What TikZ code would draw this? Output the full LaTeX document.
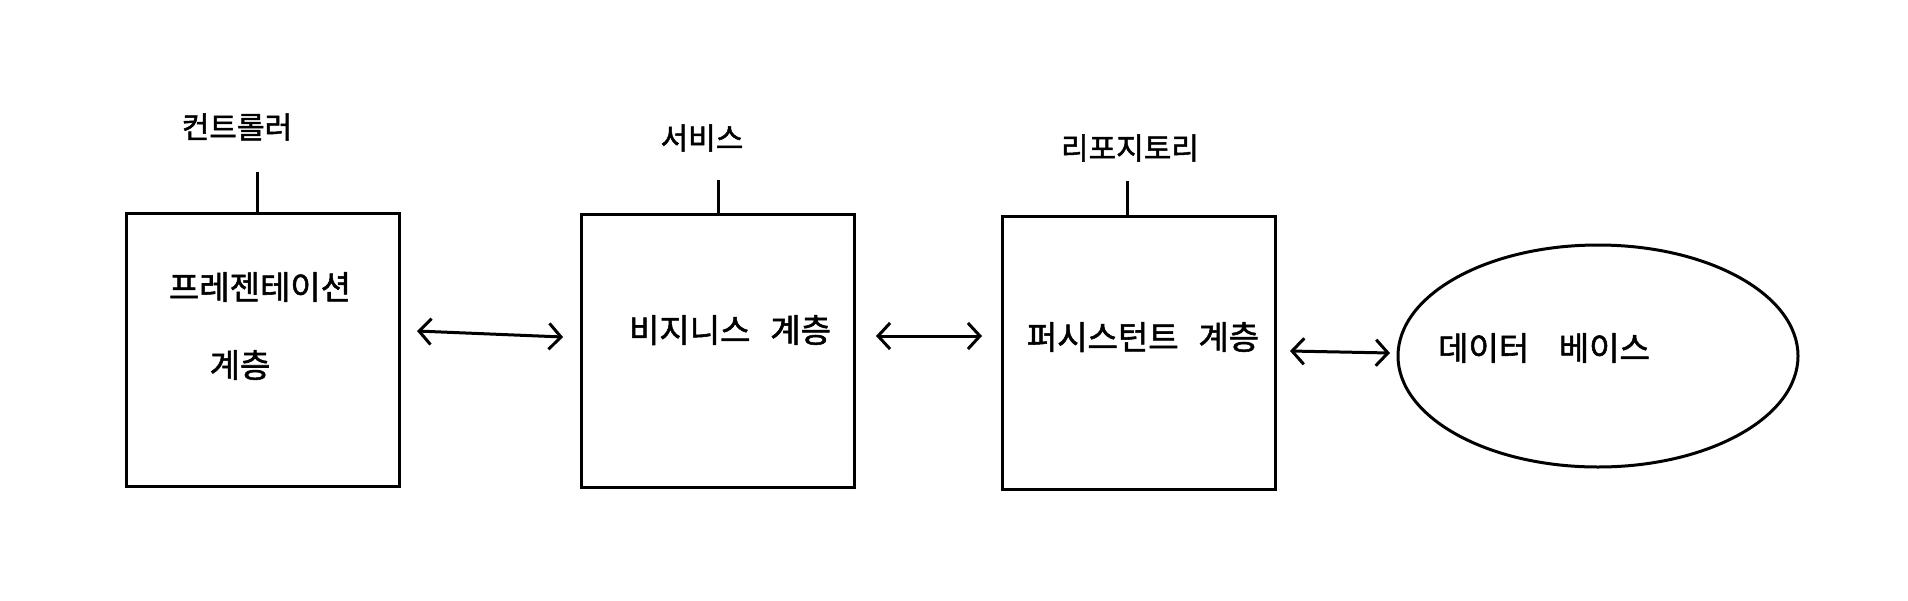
\documentclass[tikz,border=0pt]{standalone}
\usepackage{fontspec}
\setmainfont{Noto Sans CJK KR}[FakeBold=1.6,AutoFakeBold=1.6]
\usetikzlibrary{arrows.meta,shapes.geometric}
\tikzset{
  layer/.style={draw, line width=3.5pt, minimum width=273pt, minimum height=273pt, inner sep=0pt},
  dbshape/.style={draw, ellipse, line width=3pt, minimum width=400pt, minimum height=222pt, inner sep=0pt},
  tag/.style={font=\fontsize{30}{34}\selectfont\bfseries},
  body/.style={font=\fontsize{33}{40}\selectfont\bfseries, align=center},
  tick/.style={line width=3pt},
  link/.style={line width=3pt, {Straight Barb[length=12pt,width=26pt,line width=3pt]}-{Straight Barb[length=12pt,width=26pt,line width=3pt]}}
}
\begin{document}
\begin{tikzpicture}[x=1pt,y=-1pt]
\useasboundingbox[fill=white] (0,0) rectangle (1908,600);
% boxes
\node[layer] (pres) at (263,350) {};
\node[layer] (biz) at (718,351) {};
\node[layer] (pers) at (1139,353) {};
\node[dbshape] (db) at (1598,356) {};
% texts
\node[body] (prestxt1) at (260,287) {프레젠테이션};
\node[body] (prestxt2) at (240,365) {계층};
\node[body] (biztxt) at (730,330) {비지니스\hspace{0.6em}계층};
\node[body] (perstxt) at (1143,337) {퍼시스턴트\hspace{0.6em}계층};
\node[body] (dbtxt) at (1544,348) {데이터\hspace{0.9em}베이스};
% labels
\node[tag] (ctrl) at (237,127) {컨트롤러};
\node[tag] (svc) at (702,138) {서비스};
\node[tag] (repo) at (1130,148) {리포지토리};
\coordinate (t1) at (257,172);
\coordinate (t2) at (718,180);
\coordinate (t3) at (1127,181);
\draw[tick] (t1) -- (pres.north -| t1);
\draw[tick] (t2) -- (biz.north -| t2);
\draw[tick] (t3) -- (pers.north -| t3);
% connectors
\coordinate (a1) at (417,331);
\coordinate (b1) at (563,337);
\coordinate (a2) at (876,336);
\coordinate (b2) at (982,336);
\coordinate (a3) at (1290,351);
\coordinate (b3) at (1390,353);
\draw[link] (a1) -- (b1);
\draw[link] (a2) -- (b2);
\draw[link] (a3) -- (b3);
\end{tikzpicture}
\end{document}
